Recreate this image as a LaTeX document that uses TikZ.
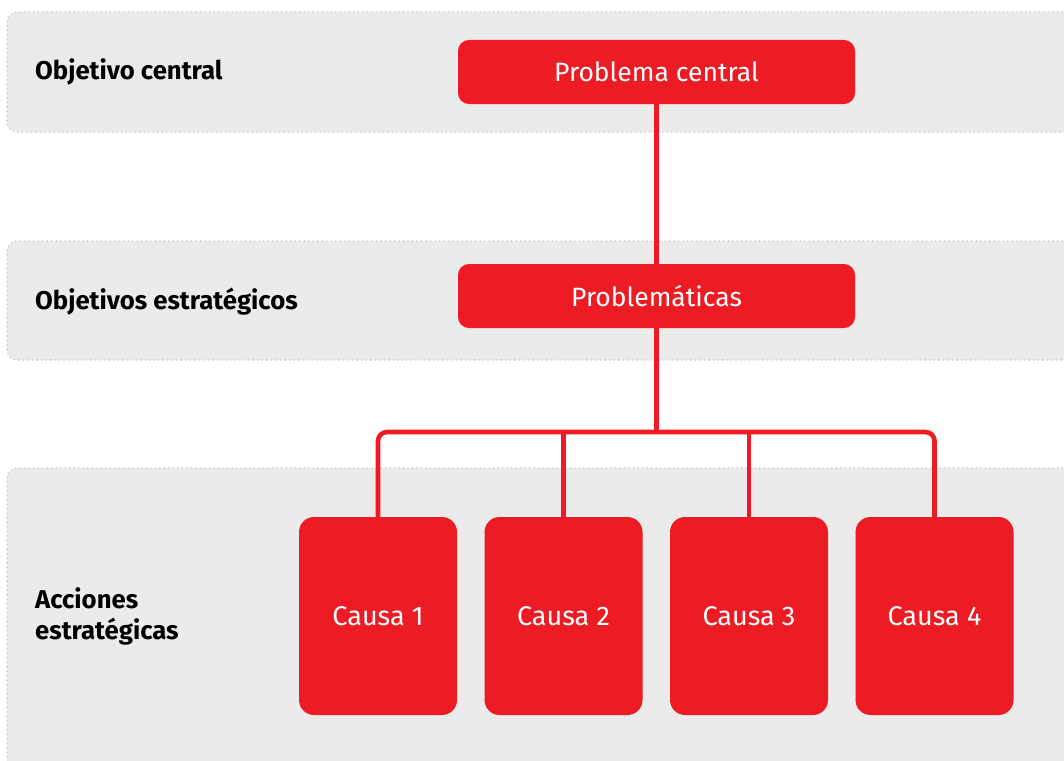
\documentclass[tikz,border=0pt]{standalone}
\usepackage{fontspec}
\setmainfont{Fira Sans}
\definecolor{myred}{HTML}{ED1C24}
\definecolor{bandfill}{HTML}{EBEBEB}
\definecolor{banddot}{HTML}{C4C4C4}
\begin{document}
\begin{tikzpicture}[x=1pt,y=-1pt,
  band/.style={fill=bandfill,draw=banddot,line width=1.6pt,dash pattern=on 0.01pt off 4.5pt,line cap=round,rounded corners=10pt},
  wide/.style={fill=myred,rounded corners=11pt,minimum width=397pt,minimum height=64pt,text=white,font=\fontsize{26.5}{30}\selectfont,inner sep=0pt},
  cause/.style={fill=myred,rounded corners=15pt,minimum width=158pt,minimum height=198pt,text=white,font=\fontsize{27}{30}\selectfont,inner sep=0pt},
  lab/.style={anchor=west,font=\bfseries\fontsize{25.7}{31}\selectfont,align=left,inner sep=0pt},
  link/.style={draw=myred,line width=4.6pt}]
\useasboundingbox (0,0) rectangle (1064,760);
\clip (0,0) rectangle (1064,760);
\fill[white] (0,0) rectangle (1064,760);
\draw[band] (1080,12) -- (7,12) -- (7,132) -- (1080,132);
\draw[band] (1080,241) -- (7,241) -- (7,360) -- (1080,360);
\draw[band] (1080,468) -- (7,468) -- (7,780) -- (1080,780);
\node[lab] (l1) at (35,72) {Objetivo central};
\node[lab] (l2) at (35,302) {Objetivos estratégicos};
\node[lab] (l3) at (35,616) {Acciones\\estratégicas};
\node[wide] (pc) at (656.5,72) {Problema central};
\node[wide] (pm) at (656.5,296) {Problemáticas};
\node[cause] (c1) at (378,616) {Causa 1};
\node[cause] (c2) at (563.5,616) {Causa 2};
\node[cause] (c3) at (749,616) {Causa 3};
\node[cause] (c4) at (934.5,616) {Causa 4};
\coordinate (jn) at (656.5,432);
\draw[link] (pc.south) -- (pm.north);
\draw[link] (pm.south) -- (jn);
\draw[link,rounded corners=9pt] (c1.north) |- (jn) -| (c4.north);
\draw[link] (c2.north) -- (c2.north |- jn);
\draw[link] (c3.north) -- (c3.north |- jn);
\end{tikzpicture}
\end{document}
